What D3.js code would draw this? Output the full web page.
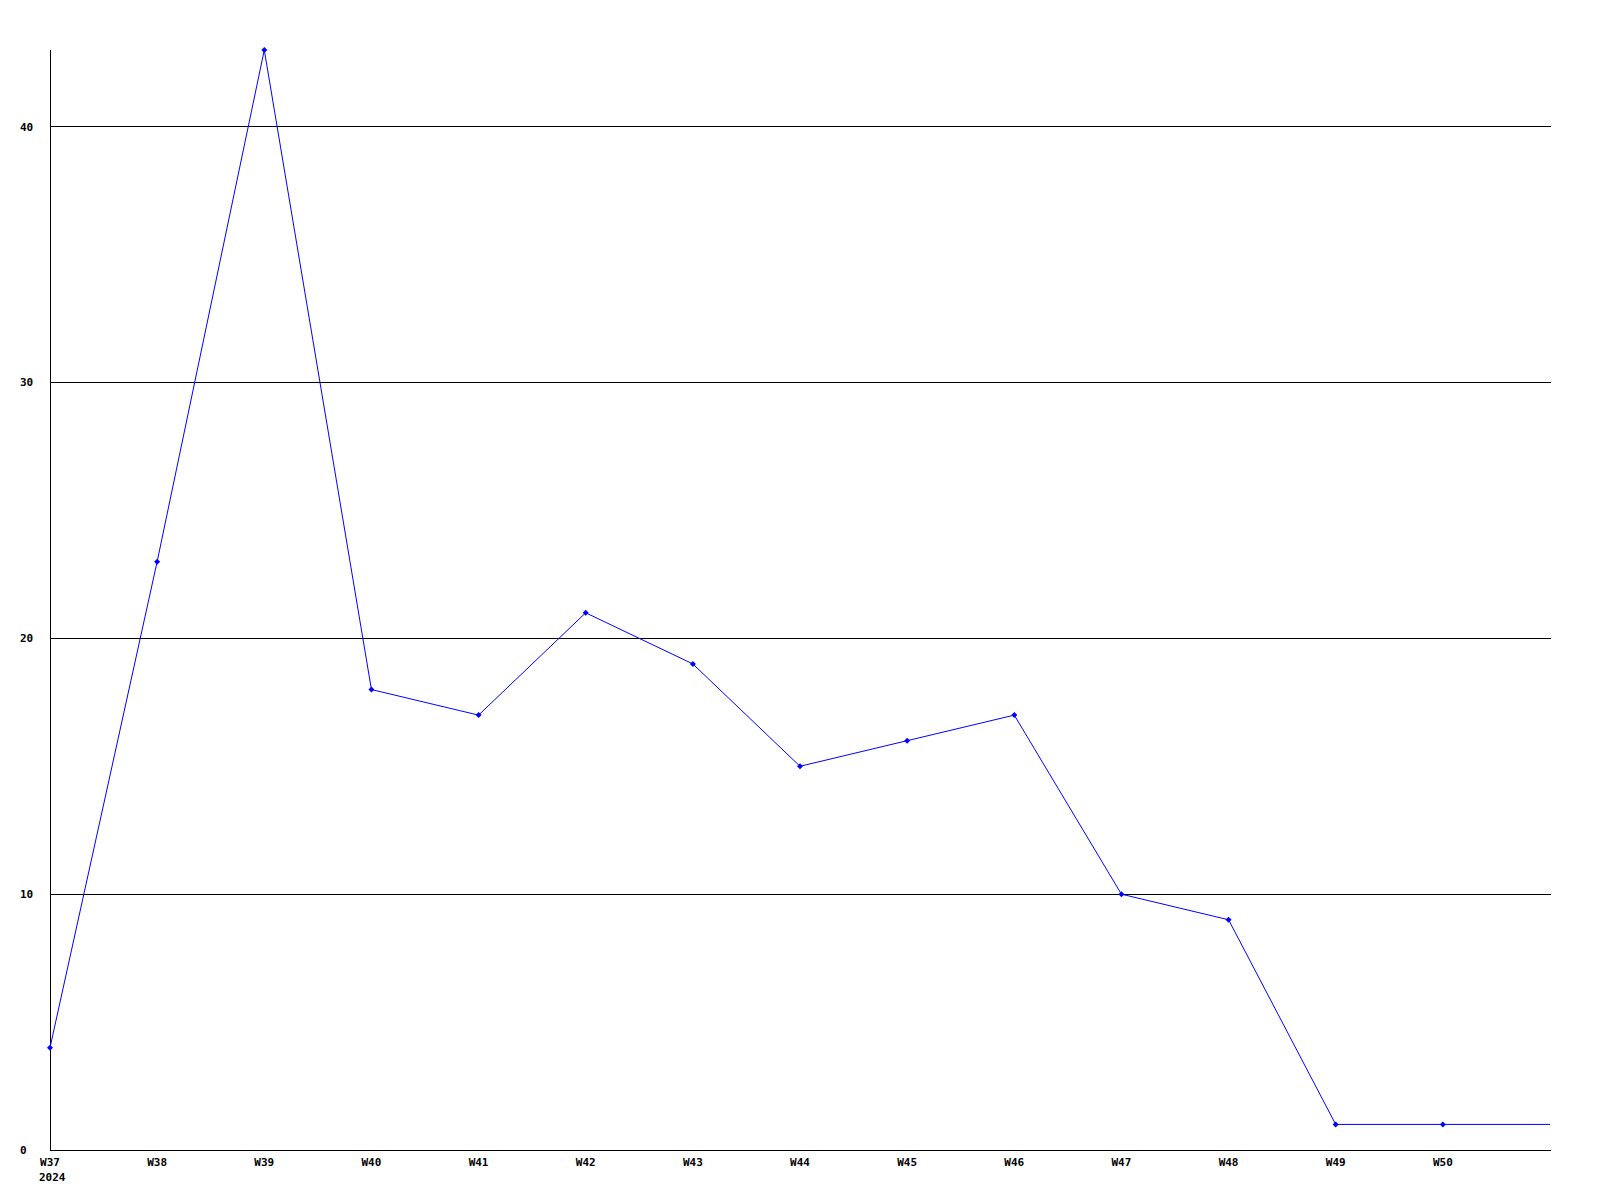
<!DOCTYPE html>
<html><head><meta charset="utf-8">
<script src="https://cdn.jsdelivr.net/npm/d3@7"></script>
<style>body{margin:0;background:#fff}svg{display:block}</style>
</head><body>
<svg id="c" width="1600" height="1200"></svg>
<script>
const weeks = ["W37","W38","W39","W40","W41","W42","W43","W44","W45","W46","W47","W48","W49","W50"];
const values = [4,23,43,18,17,21,19,15,16,17,10,9,1,1];
const tailValue = 1; // line continues to the right edge at the last level
const yTicks = [0,10,20,30,40];
const yearLabel = "2024";

const svg = d3.select("#c");
const x = d3.scaleLinear().domain([0, weeks.length]).range([50, 1550]);
const y = d3.scaleLinear().domain([0, 43]).range([1150, 50]);
const font = "'DejaVu Sans Mono', monospace";

// grid lines
svg.append("g").selectAll("line").data(yTicks.filter(d => d > 0)).join("line")
  .attr("x1", x(0)).attr("x2", x(weeks.length) + 1)
  .attr("y1", d => Math.floor(y(d)) + 0.5).attr("y2", d => Math.floor(y(d)) + 0.5)
  .attr("stroke", "#000").attr("stroke-width", 1);

// axes lines
svg.append("line").attr("x1", x(0)+0.5).attr("x2", x(0)+0.5).attr("y1", y(43)).attr("y2", y(0)+0.5)
  .attr("stroke", "#000");
svg.append("line").attr("x1", x(0)).attr("x2", x(weeks.length)+1).attr("y1", y(0)+0.5).attr("y2", y(0)+0.5)
  .attr("stroke", "#000");

// y tick labels
svg.append("g").selectAll("text").data(yTicks).join("text")
  .attr("x", 20).attr("y", d => y(d)).attr("dy", "0.35em")
  .attr("font-family", font).attr("font-size", 11).attr("font-weight", "bold")
  .text(d => d);

// x tick labels
svg.append("g").selectAll("text").data(weeks).join("text")
  .attr("x", (d, i) => x(i)).attr("y", 1166)
  .attr("text-anchor", "middle")
  .attr("font-family", font).attr("font-size", 11).attr("font-weight", "bold")
  .text(d => d);
svg.append("text").attr("x", x(0) - 11).attr("y", 1181)
  .attr("font-family", font).attr("font-size", 11).attr("font-weight", "bold")
  .text(yearLabel);

// line
const pts = values.map((v, i) => [i, v]).concat([[weeks.length, tailValue]]);
svg.append("path").datum(pts)
  .attr("d", d3.line().x(d => x(d[0])).y(d => y(d[1])))
  .attr("fill", "none").attr("stroke", "#0000ff").attr("stroke-width", 1);

// markers
svg.append("g").selectAll("path").data(values).join("path")
  .attr("transform", (d, i) => `translate(${x(i)},${y(d)})`)
  .attr("d", "M0,-3L3,0L0,3L-3,0Z")
  .attr("fill", "#0000ff");
</script>
</body></html>
